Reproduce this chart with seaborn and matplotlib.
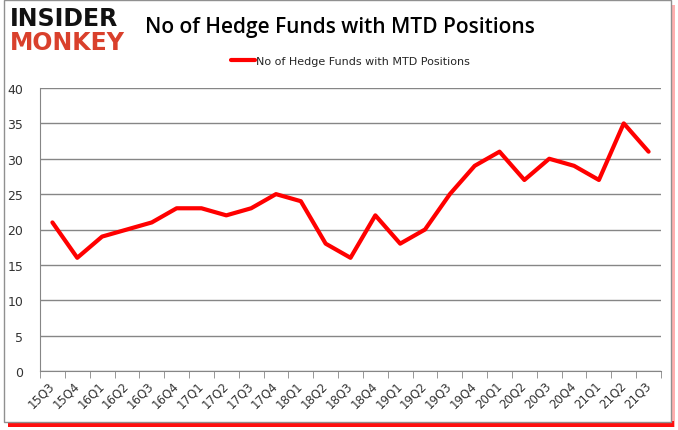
import numpy as np
import pandas as pd
import seaborn as sns
import matplotlib.pyplot as plt
from matplotlib.patches import Rectangle

# datos
quarters = ['15Q3', '15Q4', '16Q1', '16Q2', '16Q3', '16Q4', '17Q1', '17Q2', '17Q3', '17Q4',
            '18Q1', '18Q2', '18Q3', '18Q4', '19Q1', '19Q2', '19Q3', '19Q4', '20Q1', '20Q2',
            '20Q3', '20Q4', '21Q1', '21Q2', '21Q3']
funds = [21, 16, 19, 20, 21, 23, 23, 22, 23, 25,
         24, 18, 16, 22, 18, 20, 25, 29, 31, 27,
         30, 29, 27, 35, 31]
serie = 'No of Hedge Funds with MTD Positions'

df = pd.DataFrame({'pos': np.arange(len(quarters)), 'valor': funds})

sns.set_style('white')
plt.rcParams['font.family'] = ['DejaVu Sans']

W, H = 678, 431
fig = plt.figure(figsize=(W / 100, H / 100), dpi=100)
fig.patch.set_facecolor('white')
ax = fig.add_axes([40 / W, 1 - 372 / H, 621 / W, 283 / H])
ax.set_zorder(5)
ax.patch.set_alpha(0)

sns.lineplot(data=df, x='pos', y='valor', color='#ff0000', linewidth=3,
             label=serie, ax=ax)

ax.set_xlim(-0.5, len(quarters) - 0.5)
ax.set_ylim(0, 40)
ax.set_yticks(range(0, 41, 5))
ax.yaxis.grid(True, color='#868686', linewidth=1)
ax.set_axisbelow(True)
ax.set_xlabel('')
ax.set_ylabel('')

ax.set_xticks(np.arange(len(quarters)))
ax.set_xticklabels(quarters, rotation=45, fontsize=8.5, color='#333333',
                   ha='right', va='center', rotation_mode='anchor')
ax.set_xticks(np.arange(-0.5, len(quarters)), minor=True)
ax.tick_params(axis='x', which='major', length=0, pad=9)
ax.tick_params(axis='x', which='minor', length=5, color='#868686', direction='out', bottom=True)
ax.tick_params(axis='y', length=0, labelsize=9, colors='#333333', pad=12)

for s in ['top', 'right']:
    ax.spines[s].set_visible(False)
for s in ['left', 'bottom']:
    ax.spines[s].set_color('#868686')

leg = ax.legend(loc='upper center', bbox_to_anchor=(0.5, 1.15), frameon=False,
                fontsize=8, handlelength=2.2, handletextpad=0.1)

fig.text(340 / W, 1 - 27 / H, 'No of Hedge Funds with MTD Positions', ha='center', va='center',
         fontsize=15, color='black', fontweight='semibold', family=['Open Sans', 'DejaVu Sans'])

# logo
fig.text(10 / W, 1 - 19 / H, 'INSIDER', ha='left', va='center', fontsize=17,
         fontweight='black', color='#111111', family=['DejaVu Sans'])
fig.text(10 / W, 1 - 43 / H, 'MONKEY', ha='left', va='center', fontsize=17,
         fontweight='black', color='#d9402c', family=['DejaVu Sans'])

# marco con sombra roja
fig.patches.append(Rectangle((671 / W, 3 / H), 4 / W, 422 / H, transform=fig.transFigure,
                             facecolor='#ffb0b0', edgecolor='none', zorder=0))
fig.patches.append(Rectangle((8 / W, 3 / H), 666 / W, 6 / H, transform=fig.transFigure,
                             facecolor='#ff1010', edgecolor='none', zorder=0))
fig.patches.append(Rectangle((4 / W, 8 / H), 667 / W, 422 / H, transform=fig.transFigure,
                             facecolor='white', edgecolor='#909090', linewidth=1, zorder=1))

fig.savefig('out.png', dpi=100)
